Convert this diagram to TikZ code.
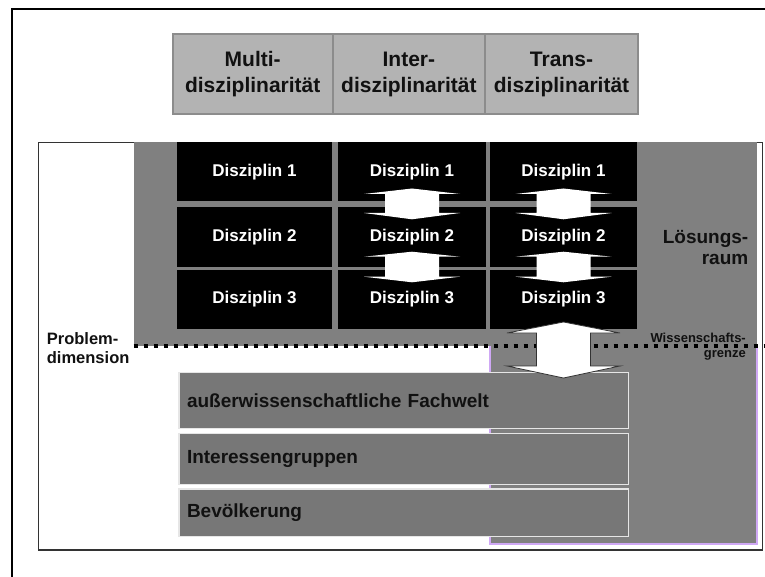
\documentclass[tikz,border=0pt]{standalone}
\usepackage{fontspec}
\setmainfont{Liberation Sans}
\usetikzlibrary{calc}

\definecolor{hdrfill}{HTML}{B3B3B3}
\definecolor{hdrline}{HTML}{8C8C8C}
\definecolor{spacegray}{HTML}{808080}
\definecolor{fieldgray}{HTML}{777777}
\definecolor{fieldline}{HTML}{E6E6E6}
\definecolor{rim}{HTML}{CFA8F5}
\definecolor{frameline}{HTML}{333333}
\definecolor{ink}{HTML}{111111}

% double-headed block arrow between an upper and a lower node
% #1 upper node, #2 lower node, #3 head half width, #4 shaft half width,
% #5 upper tip offset, #6 upper head base offset (from #1.south),
% #7 lower head base offset, #8 lower tip offset (from #2.north)
\newcommand\twoway[8]{%
  ($(#1.south)+(0,#5)$) -- ($(#1.south)+(#3,#6)$) -- ($(#1.south)+(#4,#6)$)
  -- ($(#1.south |- #2.north)+(#4,#7)$) -- ($(#1.south |- #2.north)+(#3,#7)$)
  -- ($(#1.south |- #2.north)+(0,#8)$)
  -- ($(#1.south |- #2.north)+(-#3,#7)$) -- ($(#1.south |- #2.north)+(-#4,#7)$)
  -- ($(#1.south)+(-#4,#6)$) -- ($(#1.south)+(-#3,#6)$) -- cycle}

\begin{document}
\begin{tikzpicture}[x=1pt,y=-1pt,
  hdr/.style={draw=hdrline, line width=1.6pt, fill=hdrfill, anchor=north west,
    inner sep=0pt, outer sep=0pt, minimum height=79.7pt, align=center, text=ink,
    font=\fontsize{21}{26}\selectfont\bfseries},
  disz/.style={fill=black, anchor=north west, inner sep=0pt, outer sep=0pt,
    text=white, font=\fontsize{17}{20}\selectfont\bfseries},
  field/.style={draw=fieldline, line width=1.2pt, fill=fieldgray, anchor=north west,
    outer sep=0pt, inner ysep=0pt, inner xsep=8pt, minimum width=449.4pt,
    text width=433.4pt, align=left, text=ink,
    font=\fontsize{19}{22}\selectfont\bfseries},
  tag/.style={inner sep=0pt, text=ink},
  dotline/.style={line width=4.3pt, dash pattern=on 4.3pt off 5.7pt},
  smallarrow/.style={fill=white},
  bigarrow/.style={fill=white, draw=frameline, line width=0.8pt, line join=miter}
]
\useasboundingbox (0,0) rectangle (765,577);

% outer frame (top and left edges)
\draw[line width=2pt] (12.3,577) -- (12.3,9.3) -- (765,9.3);

% header row
\node[hdr, minimum width=160pt]   (hm) at (172.7,34.3) {Multi-\\disziplinarität};
\node[hdr, minimum width=152.3pt] (hi) at (332.7,34.3) {Inter-\\disziplinarität};
\node[hdr, minimum width=153pt]   (ht) at (485,34.3)   {Trans-\\disziplinarität};

% main panel
\draw[frameline, line width=1.2pt, fill=white] (38.5,142.5) rectangle (762.5,550);

% solution space (grey region) above and below the boundary line
\fill[spacegray] (133.5,142.5) rectangle (756.7,346);
\fill[spacegray] (490,346) rectangle (756.7,544);
\draw[rim, line width=1.6pt] (490,346) -- (490,544) -- (756.7,544) -- (756.7,346);

% discipline blocks
\node[disz, minimum width=155.6pt, minimum height=59pt]   (m1) at (176.7,142.5) {Disziplin 1};
\node[disz, minimum width=155.6pt, minimum height=59.7pt] (m2) at (176.7,207)   {Disziplin 2};
\node[disz, minimum width=155.6pt, minimum height=59pt]   (m3) at (176.7,270)   {Disziplin 3};
\node[disz, minimum width=147.4pt, minimum height=59pt]   (i1) at (338.3,142.5) {Disziplin 1};
\node[disz, minimum width=147.4pt, minimum height=59.7pt] (i2) at (338.3,207)   {Disziplin 2};
\node[disz, minimum width=147.4pt, minimum height=59pt]   (i3) at (338.3,270)   {Disziplin 3};
\node[disz, minimum width=146.4pt, minimum height=59pt]   (t1) at (490.3,142.5) {Disziplin 1};
\node[disz, minimum width=146.4pt, minimum height=59.7pt] (t2) at (490.3,207)   {Disziplin 2};
\node[disz, minimum width=146.4pt, minimum height=59pt]   (t3) at (490.3,270)   {Disziplin 3};

% exchange arrows between the disciplines
\fill[smallarrow] \twoway{i1}{i2}{48}{27}{-13}{-7.5}{6}{12.3};
\fill[smallarrow] \twoway{i2}{i3}{48}{27}{-15}{-10}{6.7}{12.3};
\fill[smallarrow] \twoway{t1}{t2}{48}{27}{-13}{-7.5}{6}{12.3};
\fill[smallarrow] \twoway{t2}{t3}{48}{27}{-15}{-10}{6.7}{12.3};

% boundary of science
\coordinate (gl) at (133.5,346);
\coordinate (gr) at (765,346);
\draw[dotline] (gl) -- (gr);

% non-scientific fields
\node[field, minimum height=55.6pt] (f1) at (179,372.6) {außerwissenschaftliche Fachwelt};
\node[field, minimum height=50.8pt] (f2) at (179,433.4) {Interessengruppen};
\node[field, minimum height=47.8pt] (f3) at (179,489)   {Bevölkerung};

% transfer arrow across the boundary
\draw[bigarrow] \twoway{t3}{f1}{56.5}{27}{-7}{4}{-6.6}{5.4};

% labels
\node[tag, anchor=west, align=left, font=\fontsize{16.5}{19}\selectfont\bfseries]
  (pd) at (46.7,348.5) {Problem-\\dimension};
\node[tag, anchor=east, align=right, font=\fontsize{19}{21.6}\selectfont\bfseries]
  (lr) at (748.5,247.5) {Lösungs-\\raum};
\node[tag, anchor=east, align=right, font=\fontsize{13}{14.7}\selectfont\bfseries]
  (wg) at (746,346.7) {Wissenschafts-\\grenze};
\end{tikzpicture}
\end{document}
